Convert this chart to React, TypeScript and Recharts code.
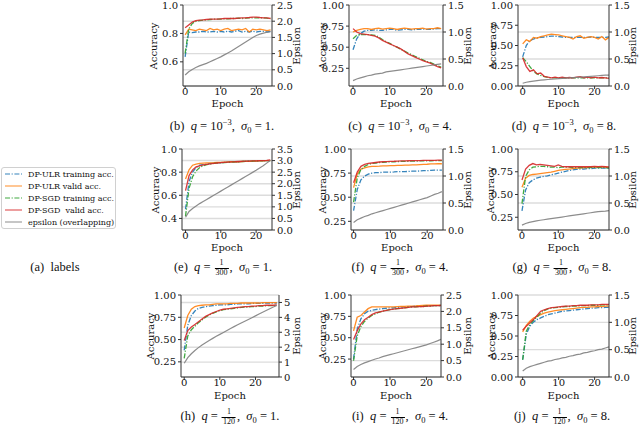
import React from 'react';
import { LineChart, Line, XAxis, YAxis, CartesianGrid } from 'recharts';

const EPOCHS = [0, 1, 2, 3, 4, 5, 6, 7, 8, 9, 10, 11, 12, 13, 14, 15, 16, 17, 18, 19, 20, 21, 22, 23, 24, 25, 26];
const X_TICKS = [0, 10, 20];

// (b) q=1e-3, sigma=1
const B_ULR_TRAIN = [0.635, 0.81, 0.805, 0.81, 0.81, 0.815, 0.81, 0.81, 0.815, 0.81, 0.815, 0.81, 0.815, 0.81, 0.815, 0.82, 0.81, 0.815, 0.81, 0.815, 0.81, 0.815, 0.815, 0.81, 0.815];
const B_ULR_VALID = [0.79, 0.83, 0.825, 0.82, 0.83, 0.825, 0.82, 0.835, 0.825, 0.83, 0.82, 0.83, 0.835, 0.82, 0.825, 0.83, 0.825, 0.835, 0.81, 0.83, 0.825, 0.83, 0.825, 0.82, 0.825];
const B_SGD_TRAIN = [0.66, 0.83, 0.87, 0.885, 0.89, 0.893, 0.895, 0.898, 0.9, 0.9, 0.9, 0.903, 0.903, 0.905, 0.905, 0.908, 0.905, 0.908, 0.91, 0.91, 0.91, 0.91, 0.91, 0.907, 0.905];
const B_SGD_VALID = [0.84, 0.86, 0.88, 0.89, 0.893, 0.895, 0.898, 0.9, 0.9, 0.9, 0.903, 0.905, 0.905, 0.905, 0.905, 0.908, 0.91, 0.91, 0.912, 0.915, 0.915, 0.912, 0.91, 0.91, 0.905];
const B_EPS = [0.34, 0.44, 0.51, 0.57, 0.62, 0.66, 0.7, 0.75, 0.8, 0.85, 0.9, 0.96, 1.02, 1.08, 1.15, 1.22, 1.29, 1.36, 1.43, 1.5, 1.56, 1.6, 1.63, 1.66, 1.68];

// (c) q=1e-3, sigma=4
const C_ULR_TRAIN = [0.47, 0.6, 0.66, 0.69, 0.7, 0.7, 0.705, 0.7, 0.7, 0.705, 0.71, 0.71, 0.7, 0.705, 0.71, 0.71, 0.705, 0.71, 0.71, 0.715, 0.71, 0.71, 0.715, 0.72, 0.72];
const C_ULR_VALID = [0.68, 0.7, 0.71, 0.72, 0.72, 0.71, 0.72, 0.725, 0.715, 0.72, 0.725, 0.72, 0.71, 0.72, 0.725, 0.72, 0.715, 0.72, 0.72, 0.725, 0.715, 0.72, 0.72, 0.73, 0.72];
const C_SGD_TRAIN = [0.6, 0.64, 0.65, 0.65, 0.65, 0.645, 0.64, 0.62, 0.59, 0.565, 0.545, 0.52, 0.5, 0.475, 0.455, 0.43, 0.41, 0.39, 0.37, 0.35, 0.33, 0.32, 0.3, 0.28, 0.265];
const C_SGD_VALID = [0.72, 0.68, 0.66, 0.655, 0.65, 0.64, 0.63, 0.61, 0.58, 0.56, 0.54, 0.52, 0.5, 0.48, 0.45, 0.42, 0.4, 0.38, 0.36, 0.34, 0.325, 0.31, 0.29, 0.27, 0.255];
const C_EPS = [0.1, 0.13, 0.15, 0.17, 0.19, 0.2, 0.22, 0.23, 0.24, 0.26, 0.27, 0.28, 0.29, 0.3, 0.31, 0.32, 0.33, 0.34, 0.35, 0.36, 0.37, 0.38, 0.39, 0.4, 0.41];

// (d) q=1e-3, sigma=8
const D_ULR_TRAIN = [0.36, 0.5, 0.56, 0.58, 0.595, 0.6, 0.605, 0.61, 0.615, 0.615, 0.61, 0.605, 0.6, 0.6, 0.6, 0.6, 0.6, 0.6, 0.6, 0.605, 0.6, 0.6, 0.6, 0.6, 0.605];
const D_ULR_VALID = [0.52, 0.57, 0.55, 0.6, 0.59, 0.61, 0.62, 0.63, 0.64, 0.635, 0.63, 0.62, 0.61, 0.6, 0.58, 0.61, 0.62, 0.59, 0.6, 0.61, 0.6, 0.58, 0.61, 0.57, 0.6];
const D_SGD_TRAIN = [0.35, 0.3, 0.24, 0.18, 0.15, 0.13, 0.115, 0.105, 0.1, 0.1, 0.1, 0.1, 0.1, 0.1, 0.1, 0.1, 0.1, 0.1, 0.1, 0.1, 0.1, 0.1, 0.1, 0.1, 0.1];
const D_SGD_VALID = [0.35, 0.24, 0.18, 0.2, 0.15, 0.16, 0.12, 0.11, 0.1, 0.11, 0.1, 0.11, 0.1, 0.105, 0.1, 0.11, 0.115, 0.1, 0.11, 0.1, 0.11, 0.1, 0.105, 0.1, 0.095];
const D_EPS = [0.05, 0.07, 0.08, 0.09, 0.1, 0.11, 0.115, 0.12, 0.125, 0.13, 0.135, 0.14, 0.145, 0.15, 0.155, 0.16, 0.165, 0.17, 0.175, 0.18, 0.185, 0.19, 0.195, 0.2, 0.2];

// (e) q=1/300, sigma=1
const E_ULR_TRAIN = [0.48, 0.72, 0.8, 0.84, 0.86, 0.865, 0.87, 0.875, 0.878, 0.88, 0.882, 0.885, 0.887, 0.888, 0.89, 0.89, 0.892, 0.893, 0.894, 0.895, 0.896, 0.897, 0.898, 0.899, 0.9];
const E_ULR_VALID = [0.74, 0.82, 0.86, 0.87, 0.875, 0.878, 0.88, 0.88, 0.882, 0.885, 0.885, 0.887, 0.888, 0.89, 0.89, 0.89, 0.892, 0.893, 0.893, 0.895, 0.895, 0.897, 0.898, 0.9, 0.9];
const E_SGD_TRAIN = [0.42, 0.66, 0.76, 0.81, 0.84, 0.855, 0.865, 0.87, 0.875, 0.878, 0.88, 0.883, 0.885, 0.887, 0.889, 0.89, 0.892, 0.893, 0.895, 0.896, 0.897, 0.898, 0.9, 0.9, 0.9];
const E_SGD_VALID = [0.64, 0.77, 0.82, 0.845, 0.855, 0.862, 0.868, 0.872, 0.876, 0.879, 0.882, 0.885, 0.887, 0.889, 0.89, 0.892, 0.893, 0.895, 0.896, 0.897, 0.898, 0.9, 0.9, 0.902, 0.905];
const E_EPS = [0.55, 0.8, 0.93, 1.04, 1.14, 1.23, 1.32, 1.41, 1.5, 1.59, 1.68, 1.77, 1.86, 1.95, 2.04, 2.13, 2.22, 2.31, 2.4, 2.49, 2.58, 2.68, 2.78, 2.89, 3.0];

// (f) q=1/300, sigma=4
const F_ULR_TRAIN = [0.36, 0.58, 0.68, 0.72, 0.74, 0.75, 0.755, 0.755, 0.76, 0.76, 0.76, 0.762, 0.765, 0.765, 0.765, 0.768, 0.77, 0.77, 0.772, 0.775, 0.775, 0.778, 0.78, 0.78, 0.78];
const F_ULR_VALID = [0.6, 0.74, 0.79, 0.805, 0.815, 0.82, 0.82, 0.822, 0.825, 0.825, 0.827, 0.828, 0.83, 0.83, 0.832, 0.833, 0.835, 0.836, 0.838, 0.84, 0.842, 0.845, 0.845, 0.847, 0.847];
const F_SGD_TRAIN = [0.45, 0.7, 0.79, 0.82, 0.84, 0.85, 0.855, 0.86, 0.862, 0.865, 0.867, 0.868, 0.87, 0.871, 0.872, 0.873, 0.874, 0.875, 0.876, 0.877, 0.878, 0.878, 0.879, 0.88, 0.88];
const F_SGD_VALID = [0.65, 0.76, 0.82, 0.84, 0.85, 0.855, 0.86, 0.865, 0.868, 0.87, 0.872, 0.873, 0.875, 0.876, 0.877, 0.878, 0.879, 0.88, 0.88, 0.881, 0.882, 0.882, 0.883, 0.885, 0.885];
const F_EPS = [0.14, 0.19, 0.22, 0.25, 0.27, 0.3, 0.32, 0.34, 0.36, 0.38, 0.4, 0.42, 0.44, 0.46, 0.48, 0.5, 0.52, 0.54, 0.56, 0.58, 0.6, 0.63, 0.66, 0.68, 0.71];

// (g) q=1/300, sigma=8
const G_ULR_TRAIN = [0.32, 0.55, 0.63, 0.66, 0.68, 0.69, 0.7, 0.705, 0.715, 0.725, 0.735, 0.745, 0.755, 0.765, 0.77, 0.775, 0.78, 0.78, 0.785, 0.785, 0.79, 0.79, 0.79, 0.79, 0.79];
const G_ULR_VALID = [0.58, 0.68, 0.71, 0.72, 0.725, 0.73, 0.735, 0.74, 0.745, 0.755, 0.765, 0.77, 0.775, 0.78, 0.785, 0.79, 0.79, 0.795, 0.795, 0.8, 0.8, 0.8, 0.8, 0.8, 0.8];
const G_SGD_TRAIN = [0.4, 0.7, 0.77, 0.8, 0.805, 0.81, 0.81, 0.805, 0.8, 0.8, 0.795, 0.8, 0.8, 0.8, 0.795, 0.795, 0.795, 0.795, 0.795, 0.795, 0.795, 0.795, 0.795, 0.795, 0.79];
const G_SGD_VALID = [0.66, 0.78, 0.82, 0.84, 0.825, 0.83, 0.825, 0.82, 0.815, 0.81, 0.825, 0.81, 0.805, 0.805, 0.805, 0.805, 0.805, 0.805, 0.805, 0.805, 0.81, 0.805, 0.81, 0.805, 0.8];
const G_EPS = [0.09, 0.12, 0.14, 0.155, 0.17, 0.18, 0.19, 0.2, 0.21, 0.22, 0.23, 0.24, 0.25, 0.26, 0.27, 0.28, 0.29, 0.3, 0.31, 0.32, 0.33, 0.34, 0.345, 0.35, 0.36];

// (h) q=1/120, sigma=1
const H_ULR_TRAIN = [0.38, 0.66, 0.77, 0.82, 0.85, 0.86, 0.87, 0.875, 0.88, 0.885, 0.89, 0.89, 0.89, 0.895, 0.895, 0.9, 0.9, 0.9, 0.9, 0.905, 0.905, 0.905, 0.905, 0.91, 0.91, 0.91, 0.91];
const H_ULR_VALID = [0.63, 0.77, 0.84, 0.87, 0.88, 0.885, 0.89, 0.89, 0.895, 0.9, 0.9, 0.9, 0.9, 0.905, 0.905, 0.905, 0.91, 0.91, 0.91, 0.91, 0.91, 0.91, 0.915, 0.915, 0.915, 0.915, 0.915];
const H_SGD_TRAIN = [0.29, 0.54, 0.61, 0.65, 0.69, 0.72, 0.75, 0.775, 0.795, 0.81, 0.825, 0.835, 0.84, 0.845, 0.85, 0.855, 0.86, 0.865, 0.865, 0.87, 0.87, 0.875, 0.875, 0.88, 0.88, 0.88, 0.885];
const H_SGD_VALID = [0.49, 0.6, 0.64, 0.67, 0.7, 0.73, 0.76, 0.78, 0.8, 0.815, 0.83, 0.84, 0.845, 0.85, 0.855, 0.86, 0.865, 0.87, 0.87, 0.875, 0.875, 0.88, 0.88, 0.885, 0.885, 0.885, 0.89];
const H_EPS = [0.92, 1.3, 1.56, 1.78, 1.97, 2.14, 2.3, 2.45, 2.59, 2.73, 2.86, 2.99, 3.12, 3.25, 3.38, 3.5, 3.62, 3.74, 3.86, 3.98, 4.1, 4.22, 4.34, 4.46, 4.58, 4.69, 4.8];

// (i) q=1/120, sigma=4
const I_ULR_TRAIN = [0.25, 0.6, 0.72, 0.78, 0.81, 0.82, 0.83, 0.835, 0.84, 0.845, 0.85, 0.85, 0.855, 0.86, 0.86, 0.865, 0.865, 0.87, 0.87, 0.87, 0.875, 0.875, 0.875, 0.875, 0.88];
const I_ULR_VALID = [0.58, 0.74, 0.76, 0.8, 0.84, 0.86, 0.86, 0.86, 0.86, 0.86, 0.86, 0.862, 0.864, 0.866, 0.868, 0.87, 0.87, 0.872, 0.875, 0.878, 0.88, 0.88, 0.88, 0.88, 0.88];
const I_SGD_TRAIN = [0.23, 0.52, 0.63, 0.69, 0.73, 0.76, 0.78, 0.8, 0.81, 0.82, 0.83, 0.835, 0.84, 0.845, 0.85, 0.855, 0.86, 0.86, 0.865, 0.865, 0.87, 0.87, 0.875, 0.875, 0.875];
const I_SGD_VALID = [0.48, 0.58, 0.66, 0.71, 0.74, 0.77, 0.79, 0.8, 0.81, 0.82, 0.83, 0.835, 0.84, 0.845, 0.85, 0.855, 0.86, 0.86, 0.865, 0.865, 0.87, 0.87, 0.875, 0.875, 0.875];
const I_EPS = [0.23, 0.32, 0.38, 0.43, 0.47, 0.51, 0.55, 0.58, 0.62, 0.65, 0.68, 0.71, 0.74, 0.77, 0.8, 0.83, 0.86, 0.89, 0.92, 0.95, 0.98, 1.02, 1.06, 1.1, 1.15];

// (j) q=1/120, sigma=8
const J_ULR_TRAIN = [0.21, 0.52, 0.62, 0.67, 0.7, 0.72, 0.74, 0.76, 0.77, 0.78, 0.79, 0.8, 0.805, 0.81, 0.815, 0.82, 0.825, 0.83, 0.835, 0.84, 0.84, 0.845, 0.845, 0.85, 0.85];
const J_ULR_VALID = [0.55, 0.63, 0.68, 0.72, 0.74, 0.76, 0.78, 0.79, 0.8, 0.81, 0.815, 0.82, 0.825, 0.83, 0.835, 0.84, 0.845, 0.85, 0.85, 0.855, 0.855, 0.86, 0.86, 0.865, 0.865];
const J_SGD_TRAIN = [0.21, 0.56, 0.64, 0.69, 0.73, 0.78, 0.81, 0.83, 0.84, 0.845, 0.85, 0.855, 0.86, 0.86, 0.865, 0.865, 0.87, 0.87, 0.87, 0.875, 0.875, 0.875, 0.88, 0.88, 0.88];
const J_SGD_VALID = [0.57, 0.62, 0.66, 0.7, 0.75, 0.8, 0.82, 0.835, 0.845, 0.85, 0.855, 0.86, 0.865, 0.865, 0.87, 0.87, 0.875, 0.875, 0.875, 0.88, 0.88, 0.88, 0.885, 0.885, 0.885];
const J_EPS = [0.11, 0.16, 0.19, 0.21, 0.23, 0.25, 0.27, 0.29, 0.3, 0.32, 0.33, 0.35, 0.36, 0.38, 0.39, 0.41, 0.42, 0.44, 0.45, 0.47, 0.48, 0.5, 0.51, 0.53, 0.55];

const ACC_TICKS_2 = [0.25, 0.5, 0.75, 1.0];
const ACC_TICKS_2Z = [0.0, 0.25, 0.5, 0.75, 1.0];
const EPS_TICKS_15 = [0, 0.5, 1.0, 1.5];

const LEGEND_LABELS = ['DP-ULR training acc.', 'DP-ULR valid acc.', 'DP-SGD training acc.', 'DP-SGD  valid acc.', 'epsilon (overlapping)'];

const SERIES = [
  { key: 'ulrTrain', color: '#1f77b4', dash: '5 1.6 1.2 1.6', axis: 'left' },
  { key: 'ulrValid', color: '#ff7f0e', dash: undefined, axis: 'left' },
  { key: 'sgdTrain', color: '#2ca02c', dash: '5 1.6 1.2 1.6', axis: 'left' },
  { key: 'sgdValid', color: '#d62728', dash: undefined, axis: 'left' },
  { key: 'eps', color: '#7f7f7f', dash: undefined, axis: 'right' },
];

const PANELS = [
  { tag: 'b', q: 'pow', sigma: 1, s: [B_ULR_TRAIN, B_ULR_VALID, B_SGD_TRAIN, B_SGD_VALID, B_EPS],
    lDom: [0.43, 1.0], lTicks: [0.6, 0.8, 1.0], lDec: 1, rDom: [0, 2.5], rTicks: [0, 0.5, 1.0, 1.5, 2.0, 2.5], rDec: 1,
    xDom: [-0.6, 24.4], box: { l: 183, t: 5, w: 89, h: 81 }, accX: 153, epsX: 296, epochY: 103, capX: 222, capY: 126 },
  { tag: 'c', q: 'pow', sigma: 4, s: [C_ULR_TRAIN, C_ULR_VALID, C_SGD_TRAIN, C_SGD_VALID, C_EPS],
    lDom: [0.04, 1.0], lTicks: ACC_TICKS_2, lDec: 2, rDom: [0, 1.5], rTicks: EPS_TICKS_15, rDec: 1,
    xDom: [-1.1, 24.5], box: { l: 349, t: 5, w: 94, h: 81 }, accX: 322, epsX: 467, epochY: 103, capX: 400, capY: 126 },
  { tag: 'd', q: 'pow', sigma: 8, s: [D_ULR_TRAIN, D_ULR_VALID, D_SGD_TRAIN, D_SGD_VALID, D_EPS],
    lDom: [0, 1.0], lTicks: ACC_TICKS_2Z, lDec: 2, rDom: [0, 1.5], rTicks: EPS_TICKS_15, rDec: 1,
    xDom: [-1.3, 24], box: { l: 518, t: 5, w: 91, h: 81 }, accX: 492, epsX: 632, epochY: 103, capX: 564, capY: 126 },
  { tag: 'e', q: '300', sigma: 1, s: [E_ULR_TRAIN, E_ULR_VALID, E_SGD_TRAIN, E_SGD_VALID, E_EPS],
    lDom: [0.3, 1.0], lTicks: [0.4, 0.6, 0.8, 1.0], lDec: 1, rDom: [0, 3.5], rTicks: [0, 0.5, 1.0, 1.5, 2.0, 2.5, 3.0, 3.5], rDec: 1,
    xDom: [-1.0, 24.5], box: { l: 182, t: 149, w: 90, h: 81 }, accX: 155, epsX: 296, epochY: 247, capX: 223, capY: 268 },
  { tag: 'f', q: '300', sigma: 4, s: [F_ULR_TRAIN, F_ULR_VALID, F_SGD_TRAIN, F_SGD_VALID, F_EPS],
    lDom: [0.16, 1.0], lTicks: ACC_TICKS_2, lDec: 2, rDom: [0, 1.5], rTicks: EPS_TICKS_15, rDec: 1,
    xDom: [-0.7, 24.3], box: { l: 351, t: 149, w: 92, h: 81 }, accX: 322, epsX: 467, epochY: 247, capX: 400, capY: 268 },
  { tag: 'g', q: '300', sigma: 8, s: [G_ULR_TRAIN, G_ULR_VALID, G_SGD_TRAIN, G_SGD_VALID, G_EPS],
    lDom: [0.11, 1.0], lTicks: ACC_TICKS_2, lDec: 2, rDom: [0, 1.5], rTicks: EPS_TICKS_15, rDec: 1,
    xDom: [-1.1, 24], box: { l: 518, t: 149, w: 91, h: 81 }, accX: 490, epsX: 632, epochY: 247, capX: 562, capY: 268 },
  { tag: 'h', q: '120', sigma: 1, s: [H_ULR_TRAIN, H_ULR_VALID, H_SGD_TRAIN, H_SGD_VALID, H_EPS],
    lDom: [0.08, 1.0], lTicks: ACC_TICKS_2, lDec: 2, rDom: [0, 5.5], rTicks: [0, 1, 2, 3, 4, 5], rDec: 0,
    xDom: [-0.9, 26.6], box: { l: 181, t: 295, w: 98, h: 82 }, accX: 150, epsX: 296, epochY: 395, capX: 230, capY: 417 },
  { tag: 'i', q: '120', sigma: 4, s: [I_ULR_TRAIN, I_ULR_VALID, I_SGD_TRAIN, I_SGD_VALID, I_EPS],
    lDom: [0.04, 1.0], lTicks: ACC_TICKS_2, lDec: 2, rDom: [0, 2.5], rTicks: [0, 0.5, 1.0, 1.5, 2.0, 2.5], rDec: 1,
    xDom: [-0.7, 24], box: { l: 351, t: 295, w: 90, h: 82 }, accX: 322, epsX: 467, epochY: 395, capX: 400, capY: 417 },
  { tag: 'j', q: '120', sigma: 8, s: [J_ULR_TRAIN, J_ULR_VALID, J_SGD_TRAIN, J_SGD_VALID, J_EPS],
    lDom: [0, 1.0], lTicks: ACC_TICKS_2Z, lDec: 2, rDom: [0, 1.5], rTicks: EPS_TICKS_15, rDec: 1,
    xDom: [-1.3, 24], box: { l: 518, t: 295, w: 91, h: 82 }, accX: 491, epsX: 632, epochY: 395, capX: 562, capY: 417 },
];

const AXIS_FONT = '"DejaVu Serif", serif';
const TICK = { fontSize: 10, fill: '#111', fontFamily: AXIS_FONT };
const SPINE = '#333';

function Panel({ p }: { p: any }) {
  const WL = 44, WR = 32, MT = 8, XH = 16;
  const data = p.s[4].map((_: number, i: number) => ({
    epoch: EPOCHS[i], ulrTrain: p.s[0][i], ulrValid: p.s[1][i], sgdTrain: p.s[2][i], sgdValid: p.s[3][i], eps: p.s[4][i],
  }));
  const { l, t, w, h } = p.box;
  return (
    <>
      <div style={{ position: 'absolute', left: l - WL, top: t - MT }}>
        <LineChart width={WL + w + WR} height={MT + h + XH} data={data} margin={{ top: MT, right: 0, bottom: 0, left: 0 }}>
          <CartesianGrid xAxisId="main" yAxisId="right" vertical={false} stroke="#dcdcdc" strokeWidth={1.4} />
          <XAxis xAxisId="main" dataKey="epoch" type="number" domain={p.xDom} ticks={X_TICKS} allowDataOverflow
            height={XH} tickSize={3} tickMargin={-1} tick={TICK} axisLine={{ stroke: SPINE }} tickLine={{ stroke: SPINE }} interval={0} />
          <XAxis xAxisId="top" orientation="top" type="number" domain={p.xDom} allowDataOverflow height={0}
            tick={false} tickLine={false} axisLine={{ stroke: SPINE }} />
          <YAxis yAxisId="left" orientation="left" width={WL} type="number" domain={p.lDom} ticks={p.lTicks} allowDataOverflow
            interval={0} tickSize={3} tickMargin={2} tick={TICK} axisLine={{ stroke: SPINE }} tickLine={{ stroke: SPINE }}
            tickFormatter={(v: number) => v.toFixed(p.lDec)} />
          <YAxis yAxisId="right" orientation="right" width={WR} type="number" domain={p.rDom} ticks={p.rTicks} allowDataOverflow
            interval={0} tickSize={3} tickMargin={2} tick={TICK} axisLine={{ stroke: SPINE }} tickLine={{ stroke: SPINE }}
            tickFormatter={(v: number) => v.toFixed(p.rDec)} />
          {SERIES.map((s) => (
            <Line key={s.key} xAxisId="main" yAxisId={s.axis} dataKey={s.key} type="linear" dot={false}
              stroke={s.color} strokeOpacity={0.9} strokeWidth={s.key === 'eps' ? 1.2 : 1.3}
              strokeDasharray={s.dash} isAnimationActive={false} />
          ))}
        </LineChart>
      </div>
      <div style={{ position: 'absolute', left: p.accX, top: t + h / 2, transform: 'translate(-50%,-50%) rotate(-90deg)',
        fontFamily: AXIS_FONT, fontSize: 10, whiteSpace: 'nowrap', color: '#111' }}>Accuracy</div>
      <div style={{ position: 'absolute', left: p.epsX, top: t + h / 2, transform: 'translate(-50%,-50%) rotate(-90deg)',
        fontFamily: AXIS_FONT, fontSize: 10, whiteSpace: 'nowrap', color: '#111' }}>Epsilon</div>
      <div style={{ position: 'absolute', left: l + w / 2, top: p.epochY, transform: 'translate(-50%,-50%)',
        fontFamily: AXIS_FONT, fontSize: 10, whiteSpace: 'nowrap', color: '#111' }}>Epoch</div>
      <Caption tag={p.tag} q={p.q} sigma={p.sigma} x={p.capX} y={p.capY} />
    </>
  );
}

function Frac({ den }: { den: string }) {
  return (
    <span style={{ display: 'inline-flex', flexDirection: 'column', alignItems: 'center', fontSize: 8, lineHeight: 1,
      verticalAlign: 'middle', margin: '0 1px' }}>
      <span>1</span>
      <span style={{ borderTop: '0.8px solid #000', padding: '0 1px', marginTop: 1 }}>{den}</span>
    </span>
  );
}

function Caption({ tag, q, sigma, x, y }: { tag: string; q: string; sigma: number; x: number; y: number }) {
  const qNode = q === 'pow'
    ? <span>10<sup style={{ fontSize: 8.5, verticalAlign: 'super', lineHeight: 0 }}>−3</sup></span>
    : <Frac den={q} />;
  return (
    <div style={{ position: 'absolute', left: x, top: y, transform: 'translate(-50%,-50%)', fontFamily: '"Liberation Serif", serif',
      fontSize: 12.5, whiteSpace: 'nowrap', color: '#111', lineHeight: 1 }}>
      <span>({tag})&nbsp;&nbsp;</span><i>q</i><span>&nbsp;=&nbsp;</span>{qNode}<span>,&nbsp;&nbsp;</span>
      <i>σ</i><sub style={{ fontSize: 8.5, lineHeight: 0 }}>0</sub><span>&nbsp;=&nbsp;{sigma}.</span>
    </div>
  );
}

function LegendPanel() {
  return (
    <>
      <div style={{ position: 'absolute', left: 1, top: 167, width: 113, height: 60, border: '1px solid #d0d0d0', borderRadius: 3,
        background: '#fff' }}>
        {LEGEND_LABELS.map((lab, i) => (
          <div key={lab} style={{ position: 'absolute', left: 0, top: i * 12, height: 12, display: 'flex', alignItems: 'center' }}>
            <svg width={22} height={12} style={{ marginLeft: 3 }}>
              <line x1={0} y1={6} x2={17} y2={6} stroke={SERIES[i].color} strokeOpacity={0.6} strokeWidth={1.5}
                strokeDasharray={SERIES[i].dash} />
            </svg>
            <span style={{ fontFamily: AXIS_FONT, fontSize: 8, whiteSpace: 'pre', color: '#111', marginLeft: 1 }}>{lab}</span>
          </div>
        ))}
      </div>
      <div style={{ position: 'absolute', left: 55, top: 267, transform: 'translate(-50%,-50%)', fontFamily: '"Liberation Serif", serif',
        fontSize: 12.5, whiteSpace: 'nowrap', color: '#111' }}>(a)&nbsp;&nbsp;labels</div>
    </>
  );
}

export default function App() {
  return (
    <div style={{ position: 'absolute', left: 0, top: 0, width: 640, height: 426, background: '#fff', overflow: 'hidden' }}>
      <LegendPanel />
      {PANELS.map((p) => <Panel key={p.tag} p={p} />)}
    </div>
  );
}
